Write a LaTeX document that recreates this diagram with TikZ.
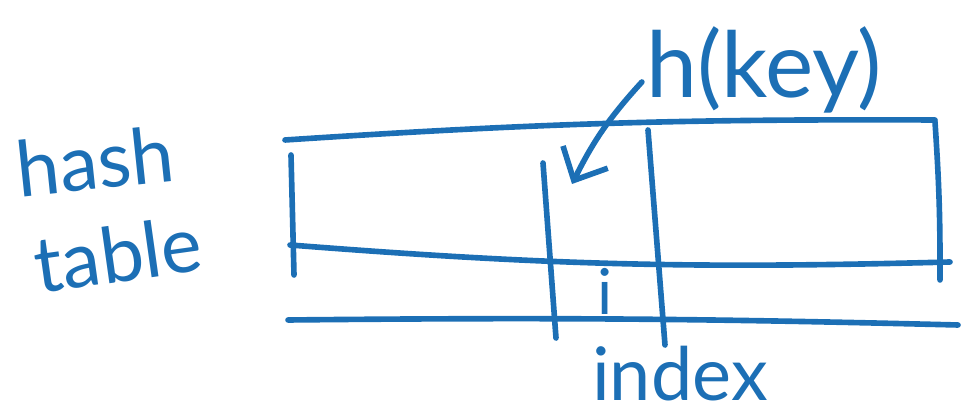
\documentclass[tikz,border=0pt]{standalone}
\usepackage{fontspec}
\setmainfont{Lato}
\usepackage{xcolor}
\usetikzlibrary{arrows.meta,positioning,calc}
\definecolor{pen}{RGB}{28,111,181}

\begin{document}
\begin{tikzpicture}[
  every node/.style={text=pen, inner sep=1pt},
  ink/.style={draw=pen, line width=1.6pt, line cap=round, line join=round},
  >={Straight Barb[length=2.6mm,width=5mm]}
]
\useasboundingbox (0,0) rectangle (9.61,4.16);
% label on the left
\node[font=\fontsize{22}{24}\selectfont, rotate=6] (hash) at (0.95,2.55) {hash};
\node[font=\fontsize{22}{24}\selectfont, rotate=8] (table) at (1.18,1.62) {table};
% the table itself
\draw[ink] (2.85,2.76) to[bend left=2] (9.35,2.96);
\draw[ink] (2.90,1.71) to[bend right=3] (9.50,1.54);
\draw[ink] (2.88,0.96) to[bend left=1] (9.58,0.91);
\draw[ink] (2.91,2.61) -- (2.94,1.41);
\draw[ink] (9.35,2.94) to[bend left=2] (9.40,1.36);
\draw[ink] (5.43,2.53) -- (5.56,0.78);
\draw[ink] (6.48,2.86) -- (6.65,0.71);
% labels
\node[font=\fontsize{18}{20}\selectfont] (i) at (6.05,1.25) {i};
\node[font=\fontsize{26}{28}\selectfont] (hkey) at (7.64,3.46) {h(key)};
\node[font=\fontsize{21}{23}\selectfont] (index) at (6.80,0.42) {index};
% arrow into the slot
\coordinate (slot) at (5.72,2.32);
\draw[ink,->] (hkey.west) ++(0,-0.12) to[bend right=8] (slot);
\end{tikzpicture}
\end{document}
